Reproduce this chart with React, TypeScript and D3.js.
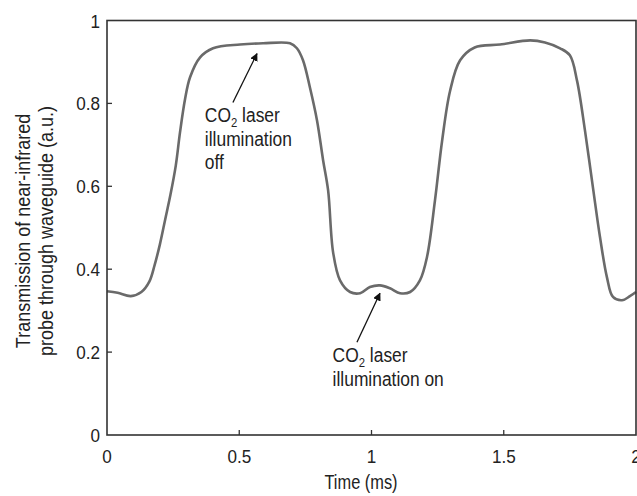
import React from "react";
import * as d3 from "d3";

const timeMs = [0, 0.04, 0.09, 0.13, 0.16, 0.18, 0.2, 0.22, 0.24, 0.26, 0.276, 0.295, 0.314, 0.352, 0.401, 0.503, 0.59, 0.692, 0.718, 0.741, 0.767, 0.794, 0.817, 0.836, 0.855, 0.881, 0.919, 0.957, 0.994, 1.032, 1.07, 1.108, 1.146, 1.183, 1.21, 1.24, 1.267, 1.297, 1.335, 1.39, 1.486, 1.6, 1.656, 1.713, 1.75, 1.777, 1.807, 1.837, 1.864, 1.89, 1.913, 1.947, 1.977, 2.0];
const transmission = [0.347, 0.343, 0.335, 0.345, 0.37, 0.41, 0.46, 0.52, 0.58, 0.65, 0.73, 0.81, 0.863, 0.911, 0.933, 0.942, 0.945, 0.945, 0.933, 0.904, 0.839, 0.759, 0.663, 0.59, 0.44, 0.373, 0.345, 0.342, 0.357, 0.361, 0.354, 0.342, 0.345, 0.373, 0.43, 0.566, 0.71, 0.83, 0.904, 0.935, 0.942, 0.952, 0.947, 0.933, 0.916, 0.855, 0.735, 0.598, 0.477, 0.381, 0.333, 0.325, 0.335, 0.345];

const xTicks = [0, 0.5, 1, 1.5, 2];
const xTickLabels = ["0", "0.5", "1", "1.5", "2"];
const yTicks = [0, 0.2, 0.4, 0.6, 0.8, 1];
const yTickLabels = ["0", "0.2", "0.4", "0.6", "0.8", "1"];

const xTitle = "Time (ms)";
const yTitleLines = ["Transmission of near-infrared", "probe through waveguide (a.u.)"];

const offLines = ["laser", "illumination", "off"];
const onLines = ["laser", "illumination on"];

const FONT = "'Liberation Sans', Arial, sans-serif";

const W = 637;
const H = 496;
const M = { left: 107, right: 1, top: 20.5, bottom: 61 };

function NText(props: {
  x: number;
  y: number;
  sx: number;
  size: number;
  anchor?: string;
  rotate?: number;
  children: React.ReactNode;
}) {
  const { x, y, sx, size, anchor = "start", rotate = 0, children } = props;
  return (
    <g transform={`translate(${x},${y}) rotate(${rotate}) scale(${sx},1)`}>
      <text x={0} y={0} textAnchor={anchor} fontSize={size} fontFamily={FONT} fill="#222">
        {children}
      </text>
    </g>
  );
}

export default function App() {
  const x = d3.scaleLinear().domain([0, 2]).range([M.left, W - M.right]);
  const y = d3.scaleLinear().domain([0, 1]).range([H - M.bottom, M.top]);
  const pts: [number, number][] = timeMs.map((t, i) => [t, transmission[i]]);
  const line = d3
    .line<[number, number]>()
    .x((d) => x(d[0]))
    .y((d) => y(d[1]))
    .curve(d3.curveCatmullRom.alpha(0.5));
  const path = line(pts) || "";

  const annot = (
    lines: string[],
    tx: number,
    baseY: number,
    from: [number, number],
    to: [number, number],
    key: string
  ) => (
    <g key={key}>
      <line x1={x(from[0])} y1={y(from[1])} x2={x(to[0])} y2={y(to[1])} stroke="#111" strokeWidth={1.3} markerEnd="url(#arrow)" />
      {lines.map((l, i) => (
        <NText key={i} x={x(tx)} y={baseY + i * 23.5} sx={0.87} size={20}>
          {i === 0 ? (
            <>
              <tspan>CO</tspan>
              <tspan fontSize={13} dy={5}>2</tspan>
              <tspan dy={-5}> {l}</tspan>
            </>
          ) : (
            l
          )}
        </NText>
      ))}
    </g>
  );

  return (
    <svg width={W} height={H} style={{ position: "absolute", left: 0, top: 0, background: "#fff" }}>
      <defs>
        <marker id="arrow" viewBox="0 0 10 10" refX="9" refY="5" markerWidth="8" markerHeight="8" markerUnits="userSpaceOnUse" orient="auto">
          <path d="M0,0 L10,5 L0,10 z" fill="#111" />
        </marker>
      </defs>
      <rect x={0} y={0} width={W} height={H} fill="#fff" />
      <path d={path} fill="none" stroke="#6a6a6a" strokeWidth={2.6} strokeLinejoin="round" />
      <rect
        x={x(0)}
        y={y(1)}
        width={x(2) - x(0)}
        height={y(0) - y(1)}
        fill="none"
        stroke="#333"
        strokeWidth={1.6}
      />
      {xTicks.map((t, i) => (
        <g key={"xt" + i}>
          {i > 0 && i < xTicks.length - 1 && (
            <line x1={x(t)} x2={x(t)} y1={y(0)} y2={y(0) - 5} stroke="#333" strokeWidth={1.3} />
          )}
          <NText x={x(t)} y={463} sx={0.9} size={19} anchor="middle">
            {xTickLabels[i]}
          </NText>
        </g>
      ))}
      {yTicks.map((t, i) => (
        <g key={"yt" + i}>
          {i > 0 && i < yTicks.length - 1 && (
            <line x1={x(0)} x2={x(0) + 5} y1={y(t)} y2={y(t)} stroke="#333" strokeWidth={1.3} />
          )}
          <NText x={100} y={y(t) + 7} sx={0.9} size={19} anchor="end">
            {yTickLabels[i]}
          </NText>
        </g>
      ))}
      <NText x={361} y={489} sx={0.82} size={20} anchor="middle">
        {xTitle}
      </NText>
      {yTitleLines.map((l, i) => (
        <NText key={"yl" + i} x={30 + i * 23} y={231} sx={0.9} size={20} anchor="middle" rotate={-90}>
          {l}
        </NText>
      ))}
      {annot(offLines, 0.37, 122, [0.476, 0.802], [0.567, 0.92], "off")}
      {annot(onLines, 0.853, 362, [0.945, 0.224], [1.032, 0.342], "on")}
    </svg>
  );
}
